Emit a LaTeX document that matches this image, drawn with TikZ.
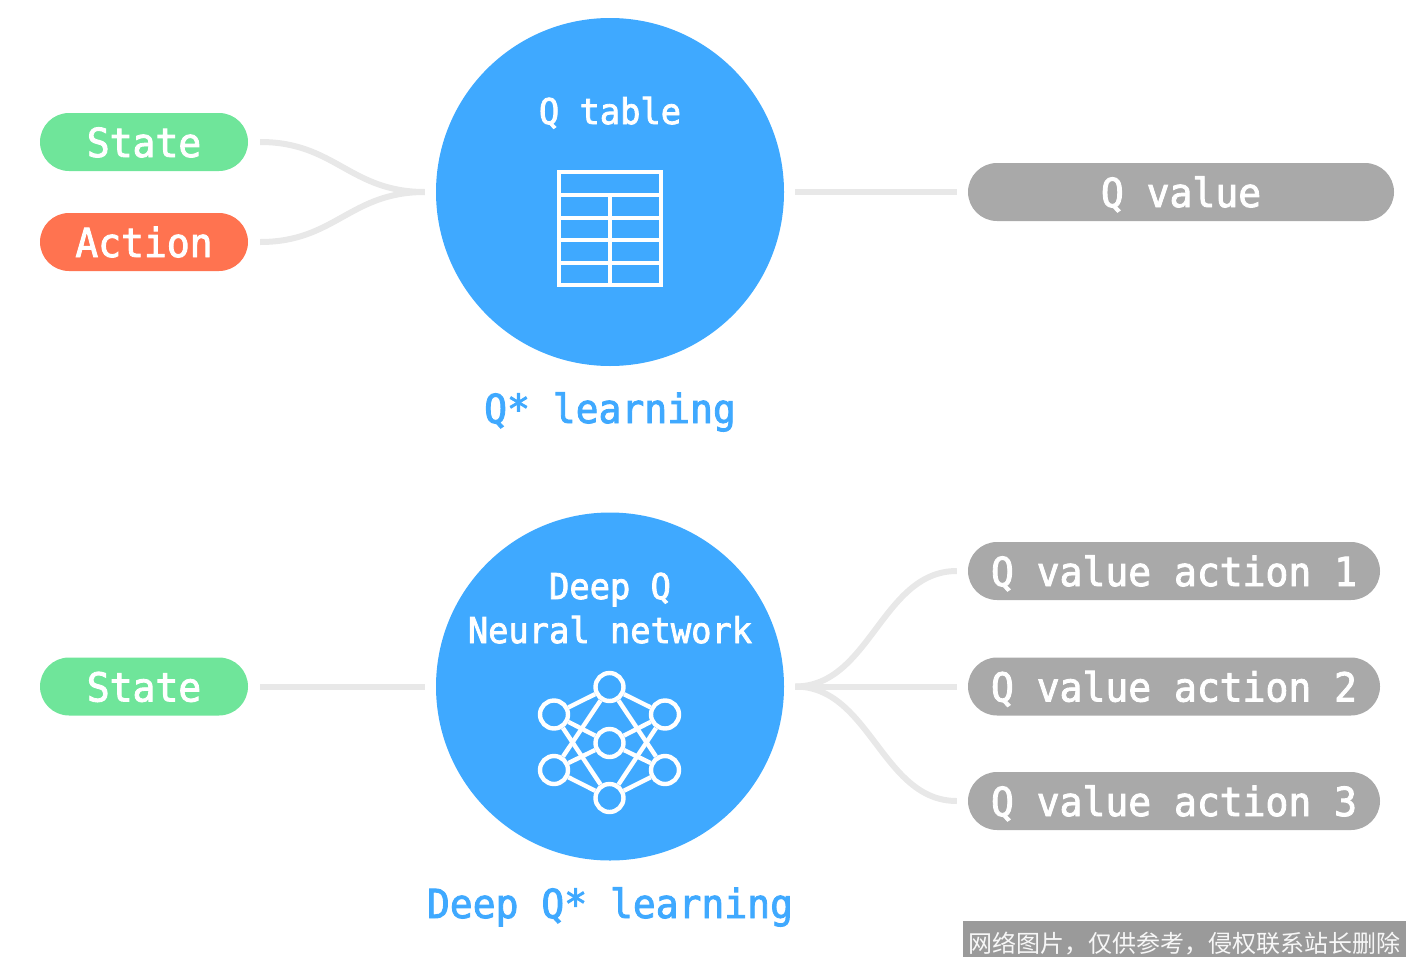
\documentclass[tikz,border=0pt]{standalone}
\usepackage{fontspec}
\usetikzlibrary{shapes.misc}
\setmonofont{DejaVu Sans Mono}
\newfontfamily\lab[FakeStretch=0.95,FakeBold=2.2]{DejaVu Sans Mono}
\newfontfamily\cjk{Noto Sans CJK SC}
\definecolor{qblue}{HTML}{3FA9FF}
\definecolor{qgreen}{HTML}{6FE59A}
\definecolor{qorange}{HTML}{FF7350}
\definecolor{qgray}{HTML}{A9A9A9}
\definecolor{qline}{HTML}{E8E8E8}
\definecolor{wm}{HTML}{9A9A9A}
\tikzset{
  pill/.style={rounded rectangle,draw=none,minimum height=58pt,inner sep=0pt,text=white,
    font=\lab\fontsize{40}{40}\selectfont,text height=30pt,text depth=0pt},
  bigcirc/.style={circle,fill=qblue,minimum size=348pt,inner sep=0pt},
  ctext/.style={text=white,font=\lab\fontsize{35.5}{36}\selectfont,inner sep=0pt,anchor=base},
  title/.style={text=qblue,font=\lab\fontsize{40}{40}\selectfont,inner sep=0pt,anchor=base},
  link/.style={draw=qline,line width=6pt},
  ico/.style={draw=white,line width=4.4pt},
  dot/.style={circle,draw=white,line width=4.4pt,minimum size=28pt,inner sep=0pt},
}
\begin{document}
\begin{tikzpicture}[x=1pt,y=-1pt]
\useasboundingbox (0,0) rectangle (1410,961);
% main circles
\node[bigcirc] (qc) at (610,192) {};
\node[bigcirc] (dc) at (610,686.5) {};
% pills
\node[pill,fill=qgreen,minimum width=208pt] (s1) at (144,142) {State};
\node[pill,fill=qorange,minimum width=208pt] (a1) at (144,242) {Action};
\node[pill,fill=qgray,minimum width=426pt] (v) at (1181,192) {Q value};
\node[pill,fill=qgreen,minimum width=208pt] (s2) at (144,686.5) {State};
\node[pill,fill=qgray,minimum width=412pt] (v1) at (1174,571) {Q value action 1};
\node[pill,fill=qgray,minimum width=412pt] (v2) at (1174,686.5) {Q value action 2};
\node[pill,fill=qgray,minimum width=412pt] (v3) at (1174,801) {Q value action 3};
% texts
\node[ctext] (t1) at (610,124) {Q table};
\node[ctext] (t2) at (610,599) {Deep Q};
\node[ctext] (t3) at (610,643) {Neural network};
\node[title] (t4) at (610,423) {Q* learning};
\node[title] (t5) at (610,918) {Deep Q* learning};
% connector ends
\coordinate (s1e) at ([xshift=12pt]s1.east);
\coordinate (a1e) at ([xshift=12pt]a1.east);
\coordinate (s2e) at ([xshift=12pt]s2.east);
\coordinate (qw) at ([xshift=-11pt]qc.west);
\coordinate (qe) at ([xshift=11pt]qc.east);
\coordinate (dw) at ([xshift=-11pt]dc.west);
\coordinate (de) at ([xshift=11pt]dc.east);
\coordinate (vw) at ([xshift=-11pt]v.west);
\coordinate (v1w) at ([xshift=-11pt]v1.west);
\coordinate (v2w) at ([xshift=-11pt]v2.west);
\coordinate (v3w) at ([xshift=-11pt]v3.west);
% connectors
\draw[link] (s1e) .. controls +(75,0) and +(-75,0) .. (qw);
\draw[link] (a1e) .. controls +(75,0) and +(-75,0) .. (qw);
\draw[link] (qe) -- (vw);
\draw[link] (s2e) -- (dw);
\draw[link] (de) .. controls +(75,0) and +(-75,0) .. (v1w);
\draw[link] (de) -- (v2w);
\draw[link] (de) .. controls +(75,0) and +(-75,0) .. (v3w);
% table icon
\node[ico,rectangle,minimum width=102pt,minimum height=113pt,inner sep=0pt] (tb) at (610,228.5) {};
\coordinate (r1) at (tb.west |- 0,195);
\coordinate (r2) at (tb.west |- 0,218);
\coordinate (r3) at (tb.west |- 0,240);
\coordinate (r4) at (tb.west |- 0,263);
\draw[ico] (r1) -- (r1 -| tb.east);
\draw[ico] (r2) -- (r2 -| tb.east);
\draw[ico] (r3) -- (r3 -| tb.east);
\draw[ico] (r4) -- (r4 -| tb.east);
\draw[ico] (tb.south) -- (tb.south |- r1);
% network icon
\node[dot] (n1) at (609.5,687) {};
\node[dot] (n2) at (554,714.5) {};
\node[dot] (n3) at (665,714.5) {};
\node[dot] (n4) at (609.5,743) {};
\node[dot] (n5) at (554,770) {};
\node[dot] (n6) at (665,770) {};
\node[dot] (n7) at (609.5,798) {};
\foreach \a/\b in {n1/n2,n1/n3,n1/n5,n1/n6,n7/n2,n7/n3,n7/n5,n7/n6,n4/n2,n4/n3,n4/n5,n4/n6}
  \draw[ico] (\a) -- (\b);
% watermark
\node[rectangle,fill=wm,minimum width=443pt,minimum height=36pt,inner sep=0pt,text=white!92!wm,
  text height=28pt,text depth=2pt,
  font=\cjk\fontsize{24}{24}\selectfont] (wmk) at (1184.5,939) {网络图片，仅供参考，侵权联系站长删除};
\end{tikzpicture}
\end{document}
